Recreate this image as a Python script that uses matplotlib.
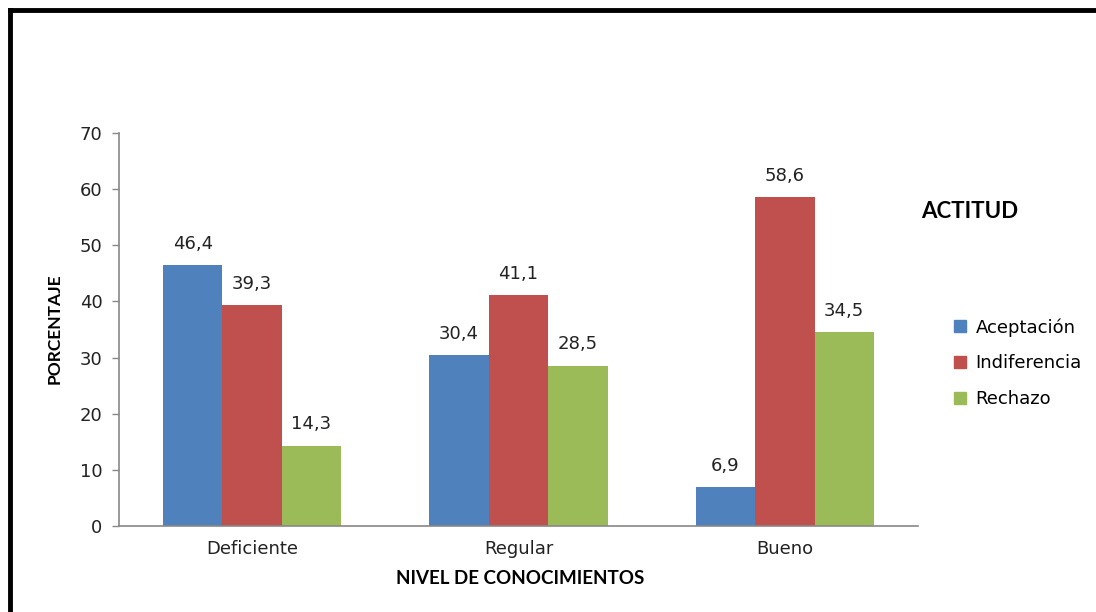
import matplotlib.pyplot as plt
import numpy as np
from matplotlib.lines import Line2D

categories = ["Deficiente", "Regular", "Bueno"]
series_names = ["Aceptación", "Indiferencia", "Rechazo"]
aceptacion = [46.4, 30.4, 6.9]
indiferencia = [39.3, 41.1, 58.6]
rechazo = [14.3, 28.5, 34.5]
colors = ["#4F81BD", "#C0504D", "#9BBB59"]
yticks = [0, 10, 20, 30, 40, 50, 60, 70]

plt.rcParams["font.family"] = ["DejaVu Sans"]

fig = plt.figure(figsize=(10.96, 6.12), dpi=100)
W, H = 1096, 612
ax = fig.add_axes([119 / W, 1 - 526 / H, (918 - 119) / W, (526 - 133) / H])

x = np.arange(len(categories))
bw = 0.223
for i, (vals, name, c) in enumerate(zip([aceptacion, indiferencia, rechazo], series_names, colors)):
    pos = x + (i - 1) * bw
    bars = ax.bar(pos, vals, width=bw, color=c, label=name, zorder=2)
    for b, v in zip(bars, vals):
        ax.annotate(f"{v:.1f}".replace(".", ","), (b.get_x() + b.get_width() / 2, v),
                    xytext=(0, 9), textcoords="offset points", ha="center", va="bottom",
                    fontsize=13, color="#222222")

ax.set_xlim(-0.5, len(categories) - 0.5)
ax.set_ylim(0, 70)
ax.set_yticks(yticks)
ax.set_xticks(x)
ax.set_xticklabels(categories)
ax.tick_params(axis="x", length=0, pad=10, labelsize=13, colors="#222222")
ax.tick_params(axis="y", length=5, width=1, color="#888888", pad=7, labelsize=13, labelcolor="#222222")
for s in ["top", "right"]:
    ax.spines[s].set_visible(False)
for s in ["left", "bottom"]:
    ax.spines[s].set_color("#888888")
    ax.spines[s].set_linewidth(1.2)

fig.text(520 / W, 1 - 579 / H, "NIVEL DE CONOCIMIENTOS", ha="center", va="center",
         fontsize=13.5, fontweight="bold", family="Lato")
fig.text(55 / W, 1 - 329 / H, "PORCENTAJE", ha="center", va="center", rotation=90,
         fontsize=12.5, fontweight="bold", family="Lato")
fig.text(970 / W, 1 - 212 / H, "ACTITUD", ha="center", va="center",
         fontsize=16, fontweight="bold", family="Lato")

handles = [Line2D([0], [0], marker="s", linestyle="none", markersize=9,
                  markerfacecolor=c, markeredgecolor=c) for c in colors]
leg = fig.legend(handles, series_names, loc="center left",
                 bbox_to_anchor=(944 / W, 1 - 363 / H), frameon=False,
                 fontsize=13, handlelength=0.8, handletextpad=0.45,
                 labelspacing=0.98, borderpad=0)

# page frame lines (top and left)
fig.add_artist(Line2D([10 / W, 1], [1 - 10 / H, 1 - 10 / H], transform=fig.transFigure,
                      color="black", linewidth=3.5))
fig.add_artist(Line2D([10 / W, 10 / W], [0, 1 - 10 / H], transform=fig.transFigure,
                      color="black", linewidth=3.5))

fig.savefig("out.png", dpi=100)
